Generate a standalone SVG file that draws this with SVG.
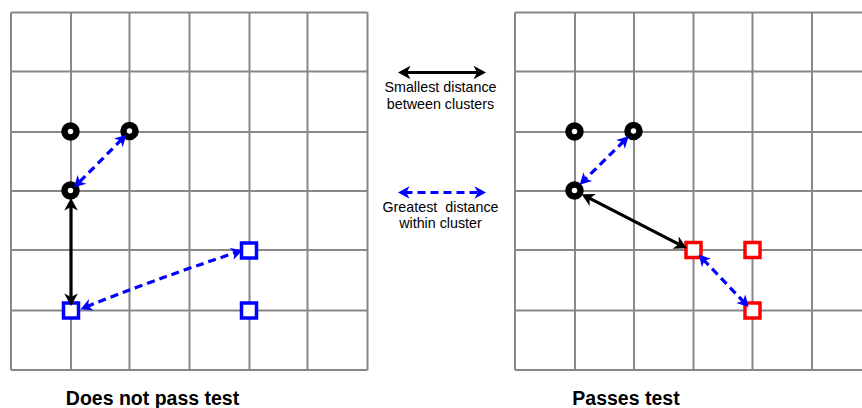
<svg xmlns="http://www.w3.org/2000/svg" width="862" height="408" viewBox="0 0 862 408">
  <style>
    .grid { fill: none; stroke: #888888; stroke-width: 2; }
    .pt { fill: #ffffff; stroke: #000000; stroke-width: 6.5; stroke-linejoin: round; }
    .sqb { fill: #ffffff; stroke: #0000ff; stroke-width: 3.5; }
    .sqr { fill: #ffffff; stroke: #ff0000; stroke-width: 3.5; }
    .near { fill: none; stroke: #000000; stroke-width: 3.2; marker-start: url(#headK); marker-end: url(#headK); }
    .far { fill: none; stroke: #0000ff; stroke-width: 3.2; stroke-dasharray: 8 5; marker-start: url(#headB); marker-end: url(#headB); }
    .lbl { font-family: "Liberation Sans", Arial, sans-serif; font-size: 14.3px; fill: #000000; text-anchor: middle; }
    .ttl { font-family: "Liberation Sans", Arial, sans-serif; font-size: 19.5px; font-weight: bold; fill: #000000; text-anchor: middle; }
  </style>
  <defs>
    <marker id="headK" markerUnits="userSpaceOnUse" viewBox="0 -8 15 16" markerWidth="15" markerHeight="16" refX="5" refY="0" orient="auto-start-reverse" overflow="visible">
      <path d="M12.5,0 L0,-6.8 L3.5,0 L0,6.8 Z" fill="#000000"/>
    </marker>
    <marker id="headB" markerUnits="userSpaceOnUse" viewBox="0 -8 15 16" markerWidth="15" markerHeight="16" refX="5" refY="0" orient="auto-start-reverse" overflow="visible">
      <path d="M11.5,0 L0,-6.2 L3.2,0 L0,6.2 Z" fill="#0000ff"/>
    </marker>
  </defs>

  <rect width="862" height="408" fill="#ffffff"/>

  <!-- left grid -->
  <g id="grid-left" class="grid">
    <path d="M11,12.5 H367.5 M11,71.5 H367.5 M11,132 H367.5 M11,191 H367.5 M11,250 H367.5 M11,310.5 H367.5 M11,370 H367.5"/>
    <path d="M11,12.5 V370 M71,12.5 V370 M129.5,12.5 V370 M189.5,12.5 V370 M249.5,12.5 V370 M307.5,12.5 V370 M367.5,12.5 V370"/>
  </g>

  <!-- right grid -->
  <g id="grid-right" class="grid">
    <path d="M515,12.5 H872 M515,71.5 H872 M515,132 H872 M515,191 H872 M515,250 H872 M515,310.5 H872 M515,370 H872"/>
    <path d="M515,12.5 V370 M575,12.5 V370 M634,12.5 V370 M693.5,12.5 V370 M752.5,12.5 V370 M812,12.5 V370"/>
  </g>

  <!-- left panel points (octagonal rings) -->
  <g id="L-c1"><circle class="pt" cx="70.5" cy="131.5" r="6"/></g>
  <g id="L-c2"><circle class="pt" cx="129.5" cy="131" r="6"/></g>
  <g id="L-c3"><circle class="pt" cx="70.5" cy="190.5" r="6"/></g>
  <g id="L-s1"><rect class="sqb" x="241.5" y="243" width="15" height="15"/></g>
  <g id="L-s2"><rect class="sqb" x="63.5" y="303" width="15" height="15"/></g>
  <g id="L-s3"><rect class="sqb" x="241.5" y="303" width="15" height="15"/></g>

  <!-- right panel points -->
  <g id="R-c1"><circle class="pt" cx="574.5" cy="131.5" r="6"/></g>
  <g id="R-c2"><circle class="pt" cx="633.5" cy="131" r="6"/></g>
  <g id="R-c3"><circle class="pt" cx="574.5" cy="190.5" r="6"/></g>
  <g id="R-s1"><rect class="sqr" x="686" y="242.5" width="15" height="15"/></g>
  <g id="R-s2"><rect class="sqr" x="745" y="242.5" width="15" height="15"/></g>
  <g id="R-s3"><rect class="sqr" x="745" y="303" width="15" height="15"/></g>

  <!-- distance arrows -->
  <g id="connectors">
    <path class="far" d="M121.8,139.3 L78.5,183"/>
    <path class="near" d="M71,205.5 L71,298.5"/>
    <path class="far" d="M86.6,306.7 Q150,281 236.3,252.4"/>

    <path class="far" d="M624,140.9 L584.3,180.1"/>
    <path class="near" d="M588.3,197.7 L680.1,244.9"/>
    <path class="far" d="M703.1,259.3 L744.2,302.4"/>

    <path class="near" d="M405.5,72.5 L478.5,72.5"/>
    <path class="far" d="M404.5,192.5 L479.5,192.5"/>
  </g>

  <!-- legend -->
  <g id="legend">
    <text class="lbl" x="440.5" y="92">Smallest distance</text>
    <text class="lbl" x="440.5" y="108.5">between clusters</text>
    <text class="lbl" x="440.5" y="212" xml:space="preserve">Greatest  distance</text>
    <text class="lbl" x="440.5" y="228">within cluster</text>
  </g>

  <!-- panel captions -->
  <text class="ttl" x="152.5" y="405">Does not pass test</text>
  <text class="ttl" x="626" y="405">Passes test</text>
</svg>
